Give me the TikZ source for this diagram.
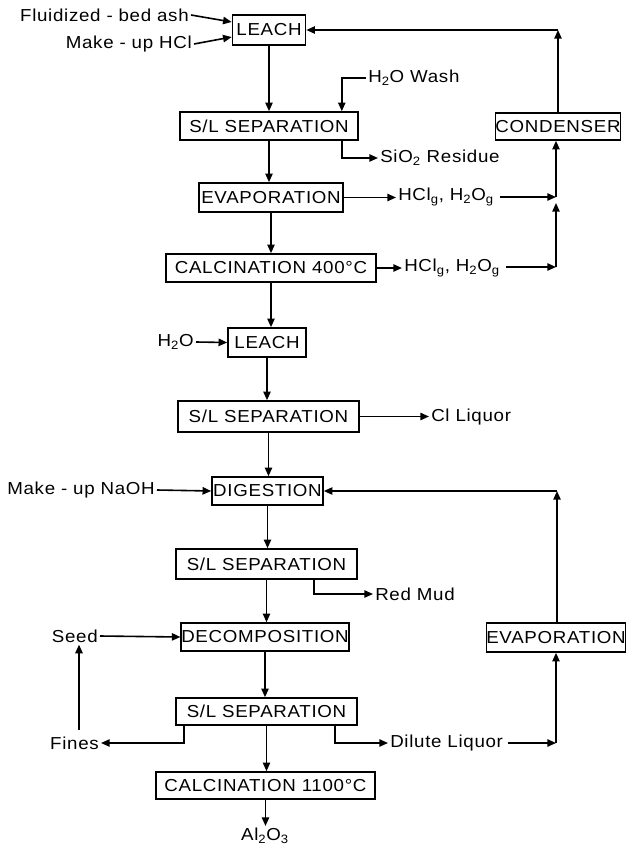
\documentclass[tikz,border=0pt]{standalone}
\usepackage{fontspec}
\setmainfont{Liberation Sans}[FakeStretch=1.08,LetterSpace=4]
\usetikzlibrary{arrows.meta,calc}
\begin{document}
\begin{tikzpicture}[x=0.75pt,y=-0.75pt,
  every node/.style={font=\fontsize{13}{15}\selectfont},
  box/.style={draw,line width=1.2pt,inner sep=0pt,align=center},
  lbl/.style={inner sep=1.5pt},
  ln/.style={line width=1.2pt},
  arr/.style={line width=1.2pt,-{Triangle[length=6.5pt,width=5.5pt]}}]
\useasboundingbox (0,0) rectangle (627,849);
% boxes
\node[box,minimum width=54.75pt,minimum height=22.5pt] (leach1) at (269,30) {LEACH};
\node[box,minimum width=133.5pt,minimum height=21pt] (sls1) at (269,126) {S/L SEPARATION};
\node[box,minimum width=90pt,minimum height=20.25pt] (cond) at (558,126.5) {CONDENSER};
\node[box,minimum width=108pt,minimum height=21.75pt] (evap1) at (271,197.5) {EVAPORATION};
\node[box,minimum width=157.5pt,minimum height=21pt] (calc1) at (271,268) {CALCINATION 400°C};
\node[box,minimum width=58.5pt,minimum height=21.75pt] (leach2) at (267,342.5) {LEACH};
\node[box,minimum width=135.75pt,minimum height=23.25pt] (sls2) at (268.5,416.5) {S/L SEPARATION};
\node[box,minimum width=83.25pt,minimum height=21pt] (dig) at (267.5,491) {DIGESTION};
\node[box,minimum width=135.75pt,minimum height=22.5pt] (sls3) at (266.5,564) {S/L SEPARATION};
\node[box,minimum width=123pt,minimum height=21pt] (decomp) at (265,637) {DECOMPOSITION};
\node[box,minimum width=102pt,minimum height=21.75pt] (evap2) at (556,637.5) {EVAPORATION};
\node[box,minimum width=135.75pt,minimum height=20.25pt] (sls4) at (266.5,711.5) {S/L SEPARATION};
\node[box,minimum width=164.25pt,minimum height=20.25pt] (calc2) at (265.5,785.5) {CALCINATION 1100°C};
% labels
\node[lbl,anchor=east] (fluid) at (191,15) {Fluidized - bed ash};
\node[lbl,anchor=east] (hcl) at (194,44) {Make - up  HCl};
\node[lbl,anchor=west] (wash) at (366,78) {H\textsubscript{2}O  Wash};
\node[lbl,anchor=west] (sio) at (378,158) {SiO\textsubscript{2} Residue};
\node[lbl,anchor=west] (hg1) at (396,197) {HCl\textsubscript{g}, H\textsubscript{2}O\textsubscript{g}};
\node[lbl,anchor=west] (hg2) at (402,268) {HCl\textsubscript{g}, H\textsubscript{2}O\textsubscript{g}};
\node[lbl,anchor=east] (water) at (196,342) {H\textsubscript{2}O};
\node[lbl,anchor=west] (cl) at (429,417) {Cl  Liquor};
\node[lbl,anchor=east] (naoh) at (157,490) {Make - up  NaOH};
\node[lbl,anchor=west] (red) at (373,594) {Red  Mud};
\node[lbl,anchor=east] (seed) at (100,636) {Seed};
\node[lbl,anchor=east] (fines) at (101,743) {Fines};
\node[lbl,anchor=west] (dil) at (388,743) {Dilute  Liquor};
\node[lbl,anchor=north] (al) at (265,826) {Al\textsubscript{2}O\textsubscript{3}};
% coordinates
\coordinate (c1) at (558,30);
\coordinate (J) at (556,197);
\coordinate (K) at (556,267);
\coordinate (R) at (557,491);
\coordinate (D) at (556,743);
\coordinate (fu) at (79,730);
% connectors main trunk
\draw[arr] (leach1.south) -- (leach1.south |- sls1.north);
\draw[arr] (sls1.south) -- (sls1.south |- evap1.north);
\draw[arr] (evap1.south) -- (evap1.south |- calc1.north);
\draw[arr] (calc1.south) -- (calc1.south |- leach2.north);
\draw[arr] (leach2.south) -- (leach2.south |- sls2.north);
\draw[arr] (sls2.south) -- (sls2.south |- dig.north);
\draw[arr] (dig.south) -- (dig.south |- sls3.north);
\draw[arr] (sls3.south) -- (sls3.south |- decomp.north);
\draw[arr] (decomp.south) -- (decomp.south |- sls4.north);
\draw[arr] (sls4.south) -- (sls4.south |- calc2.north);
\draw[arr] (calc2.south) -- (calc2.south |- al.north);
% inputs
\draw[arr] (fluid.east) -- ($(leach1.west)+(0,-8)$);
\draw[arr] (hcl.east) -- ($(leach1.west)+(0,7)$);
\draw[arr] (wash.west) -| ($(sls1.north east)+(-17,0)$);
\draw[arr] ($(sls1.south east)+(-17,0)$) |- (sio.west);
\draw[arr] (evap1.east) -- (evap1.east -| hg1.west);
\draw[arr] (calc1.east) -- (calc1.east -| hg2.west);
\draw[arr] ($(hg1.east |- J)+(4,0)$) -- (J);
\draw[arr] ($(hg2.east |- K)+(4,0)$) -- (K);
\draw[arr] (K) -- ($(J)+(0,6)$);
\draw[arr] (J) -- (J |- cond.south);
\draw[arr] (cond.north) -- (c1);
\draw[arr] (c1) -- (leach1.east);
\draw[arr] (water.east) -- (leach2.west);
\draw[arr] (sls2.east) -- (sls2.east -| cl.west);
\draw[arr] (naoh.east) -- (dig.west);
\draw[arr] (evap2.north -| R) -- (R);
\draw[arr] (R) -- (dig.east);
\draw[arr] ($(sls3.south east)+(-44,0)$) |- (red.west);
\draw[arr] (seed.east) -- (decomp.west);
\draw[arr] ($(sls4.south west)+(9,0)$) |- (fines.east);
\draw[arr] (fu) -- (fu |- seed.south);
\draw[arr] ($(sls4.south east)+(-23,0)$) |- (dil.west);
\draw[arr] ($(dil.east)+(3,0)$) -- (D);
\draw[arr] (D) -- (D |- evap2.south);
\end{tikzpicture}
\end{document}
